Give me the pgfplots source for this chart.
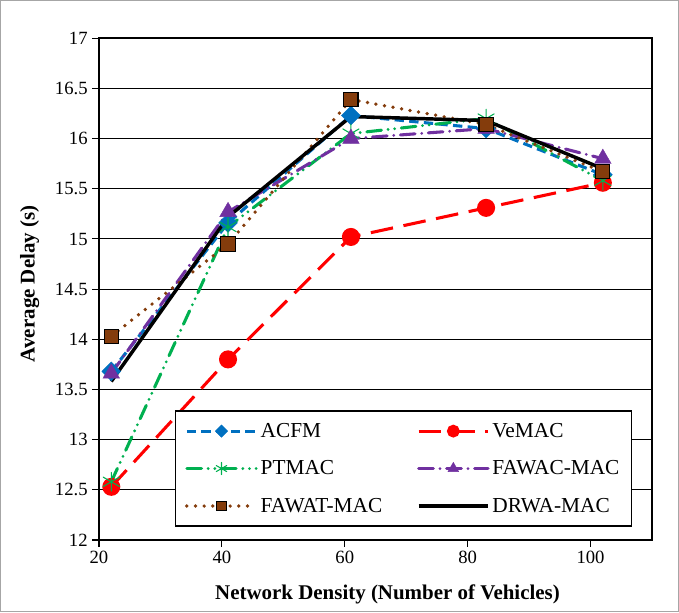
\documentclass[border=0pt]{standalone}
\usepackage{pgfplots}
\pgfplotsset{compat=1.18}
\usepackage{fontspec}
\setmainfont{Liberation Serif}
\definecolor{cblue}{RGB}{0,112,192}
\definecolor{cred}{RGB}{255,0,0}
\definecolor{cgreen}{RGB}{0,176,80}
\definecolor{cpurple}{RGB}{112,48,160}
\definecolor{cbrown}{RGB}{132,60,12}
\begin{document}
\begin{tikzpicture}
\begin{axis}[
  scale only axis,
  width=414.75pt, height=376.3pt,
  at={(0,0)}, anchor=south west,
  xmin=20, xmax=110, ymin=12, ymax=17,
  xtick={20,40,60,80,100},
  ytick={12,12.5,13,13.5,14,14.5,15,15.5,16,16.5,17},
  yticklabel style={/pgf/number format/fixed,/pgf/number format/precision=1},
  /pgf/number format/assume math mode=true,
  tick label style={font=\fontsize{14}{16}\selectfont},
  tick align=outside, xtick pos=bottom, ytick pos=left,
  major tick length=5pt,
  tick style={black, line width=0.8pt},
  axis line style={black, line width=1.6pt},
  ymajorgrids, grid style={black, line width=0.8pt},
  xlabel={Network Density (Number of Vehicles)},
  ylabel={Average Delay (s)},
  every axis x label/.style={at={(axis description cs:0.5,0)}, yshift=-41pt, xshift=9pt, anchor=center, font=\bfseries\fontsize{15.7}{17}\selectfont},
  every axis y label/.style={at={(axis description cs:0,0.5)}, xshift=-52pt, yshift=4pt, rotate=90, anchor=center, font=\bfseries\fontsize{15.7}{17}\selectfont},
  legend columns=2,
  legend style={at={(0.137,0.026)}, anchor=south west, draw=black, line width=1.3pt, fill=white,
    font=\fontsize{16}{18}\selectfont, row sep=12pt, inner xsep=7pt, inner ysep=7pt,
    /tikz/column 2/.style={column sep=24pt}},
  legend cell align=left,
  legend image code/.code={\draw[mark repeat=2,mark phase=2,#1,every mark/.append style={scale=0.65}] plot coordinates {(0pt,0pt) (26pt,0pt) (52pt,0pt)};},
]
\addplot[color=cblue, line width=2.3pt, line cap=butt, dash pattern=on 7pt off 4pt, mark=square*, mark size=5pt, mark options={solid, rotate=45, fill=cblue, draw=cblue, line width=0.3pt}]
  coordinates {(22,13.68) (41,15.16) (61,16.23) (83,16.1) (102,15.64)};
\addlegendentry{ACFM}
\addplot[color=cred, line width=2.3pt, line cap=butt, dash pattern=on 17pt off 8pt, mark=*, mark size=5.6pt, mark options={solid, fill=cred, draw=cred}]
  coordinates {(22,12.53) (41,13.80) (61,15.02) (83,15.31) (102,15.56)};
\addlegendentry{VeMAC}
\addplot[color=cgreen, line width=2.3pt, line cap=round, dash pattern=on 11pt off 5pt on 0pt off 5pt on 0pt off 5pt, mark=asterisk, mark size=7pt, mark options={solid, line width=0.8pt}]
  coordinates {(22,12.58) (41,15.12) (61,16.05) (83,16.20) (102,15.58)};
\addlegendentry{PTMAC}
\addplot[color=cpurple, line width=2.3pt, line cap=round, dash pattern=on 11pt off 5pt on 0pt off 5pt, mark=triangle*, mark size=7.2pt, mark options={solid, fill=cpurple, draw=cpurple, line width=0.3pt}]
  coordinates {(22,13.66) (41,15.27) (61,16.00) (83,16.10) (102,15.80)};
\addlegendentry{FAWAC-MAC}
\addplot[color=cbrown, line width=2.8pt, line cap=round, dash pattern=on 0pt off 6.5pt, mark=square*, mark size=5.3pt, mark options={solid, fill=cbrown, draw=black, line width=0.8pt}]
  coordinates {(22,14.03) (41,14.95) (61,16.39) (83,16.14) (102,15.67)};
\addlegendentry{FAWAT-MAC}
\addplot[color=black, line width=2.6pt, line cap=butt, no marks]
  coordinates {(22,13.58) (41,15.22) (61,16.22) (83,16.18) (102,15.70)};
\addlegendentry{DRWA-MAC}
\end{axis}
\draw[gray!70, line width=0.6pt] (-73.95pt,-53.7pt) rectangle (434.7pt,404.7pt);
\end{tikzpicture}
\end{document}
